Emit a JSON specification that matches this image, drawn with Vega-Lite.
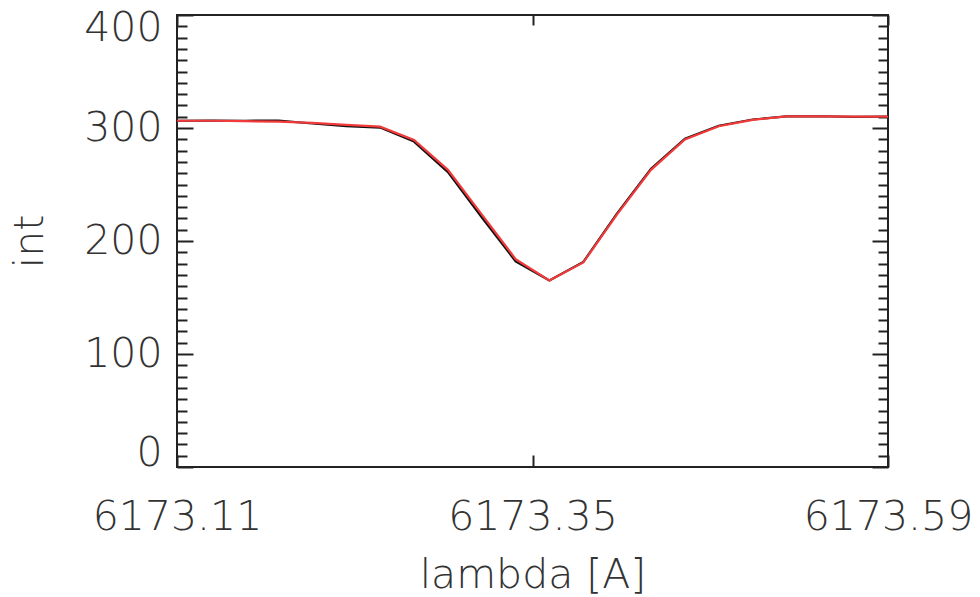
{
  "$schema": "https://vega.github.io/schema/vega-lite/v6.json",
  "width": 711,
  "height": 452,
  "autosize": {"type": "none"},
  "padding": {"left": 177, "top": 15, "right": 92, "bottom": 130},
  "background": "white",
  "config": {
    "view": {"stroke": "#222", "strokeWidth": 2},
    "axis": {
      "domain": false,
      "grid": false,
      "tickColor": "#222",
      "tickWidth": 2,
      "labelFont": "DejaVu Sans",
      "labelFontSize": 41,
      "labelFontWeight": 200,
      "labelColor": "#333",
      "titleFont": "DejaVu Sans",
      "titleFontSize": 41,
      "titleFontWeight": 200,
      "titleColor": "#333",
      "labelOverlap": false
    }
  },
  "datasets": {
    "black": [
      {"lambda": 6173.1100, "int": 306.4},
      {"lambda": 6173.1329, "int": 306.6},
      {"lambda": 6173.1557, "int": 306.4},
      {"lambda": 6173.1786, "int": 306.6},
      {"lambda": 6173.2014, "int": 304.0},
      {"lambda": 6173.2243, "int": 301.6},
      {"lambda": 6173.2471, "int": 300.4},
      {"lambda": 6173.2700, "int": 288.0},
      {"lambda": 6173.2929, "int": 261.0},
      {"lambda": 6173.3157, "int": 221.0},
      {"lambda": 6173.3386, "int": 182.0},
      {"lambda": 6173.3614, "int": 165.0},
      {"lambda": 6173.3843, "int": 181.5},
      {"lambda": 6173.4071, "int": 224.5},
      {"lambda": 6173.4300, "int": 264.0},
      {"lambda": 6173.4529, "int": 290.5},
      {"lambda": 6173.4757, "int": 302.0},
      {"lambda": 6173.4986, "int": 307.5},
      {"lambda": 6173.5214, "int": 310.2},
      {"lambda": 6173.5443, "int": 310.4},
      {"lambda": 6173.5671, "int": 309.8},
      {"lambda": 6173.5900, "int": 310.0}
    ],
    "red": [
      {"lambda": 6173.1100, "int": 306.4},
      {"lambda": 6173.1329, "int": 306.4},
      {"lambda": 6173.1557, "int": 306.0},
      {"lambda": 6173.1786, "int": 305.6},
      {"lambda": 6173.2014, "int": 304.6},
      {"lambda": 6173.2243, "int": 302.8},
      {"lambda": 6173.2471, "int": 301.2},
      {"lambda": 6173.2700, "int": 289.5},
      {"lambda": 6173.2929, "int": 263.0},
      {"lambda": 6173.3157, "int": 223.5},
      {"lambda": 6173.3386, "int": 184.0},
      {"lambda": 6173.3614, "int": 165.0},
      {"lambda": 6173.3843, "int": 181.0},
      {"lambda": 6173.4071, "int": 223.5},
      {"lambda": 6173.4300, "int": 263.0},
      {"lambda": 6173.4529, "int": 289.8},
      {"lambda": 6173.4757, "int": 301.6},
      {"lambda": 6173.4986, "int": 307.2},
      {"lambda": 6173.5214, "int": 310.2},
      {"lambda": 6173.5443, "int": 310.2},
      {"lambda": 6173.5671, "int": 310.0},
      {"lambda": 6173.5900, "int": 310.0}
    ]
  },
  "layer": [
    {
      "data": {"name": "black"},
      "mark": {"type": "line", "color": "#111", "strokeWidth": 2.2},
      "encoding": {
        "x": {
          "field": "lambda", "type": "quantitative",
          "scale": {"domain": [6173.11, 6173.59], "nice": false, "zero": false},
          "axis": {
            "orient": "bottom",
            "title": "lambda [A]",
            "values": [6173.11, 6173.35, 6173.59],
            "format": ".2f",
            "labelFlush": false,
            "tickSize": -12,
            "labelPadding": 42,
            "titlePadding": 18
          }
        },
        "y": {
          "field": "int", "type": "quantitative",
          "scale": {"domain": [0, 400], "nice": false, "zero": true},
          "axis": {
            "orient": "left",
            "title": "int",
            "values": [0,10,20,30,40,50,60,70,80,90,100,110,120,130,140,150,160,170,180,190,200,210,220,230,240,250,260,270,280,290,300,310,320,330,340,350,360,370,380,390,400],
            "labelExpr": "datum.value % 100 === 0 ? datum.label : ''",
            "labelFlush": true,
            "labelFlushOffset": 7,
            "tickSize": {"condition": {"test": "datum.value % 100 === 0", "value": -16}, "value": -10},
            "labelPadding": 31,
            "titlePadding": 32
          }
        }
      }
    },
    {
      "data": {"name": "red"},
      "mark": {"type": "line", "color": "#f23a3a", "strokeWidth": 2.2},
      "encoding": {
        "x": {
          "field": "lambda", "type": "quantitative",
          "scale": {"domain": [6173.11, 6173.59], "nice": false, "zero": false},
          "axis": {
            "orient": "top",
            "title": null,
            "labels": false,
            "values": [6173.11, 6173.35, 6173.59],
            "tickSize": -10
          }
        },
        "y": {
          "field": "int", "type": "quantitative",
          "scale": {"domain": [0, 400], "nice": false, "zero": true},
          "axis": {
            "orient": "right",
            "title": null,
            "labels": false,
            "values": [0,10,20,30,40,50,60,70,80,90,100,110,120,130,140,150,160,170,180,190,200,210,220,230,240,250,260,270,280,290,300,310,320,330,340,350,360,370,380,390,400],
            "tickSize": {"condition": {"test": "datum.value % 100 === 0", "value": -16}, "value": -10}
          }
        }
      }
    }
  ],
  "resolve": {"axis": {"x": "independent", "y": "independent"}}
}
